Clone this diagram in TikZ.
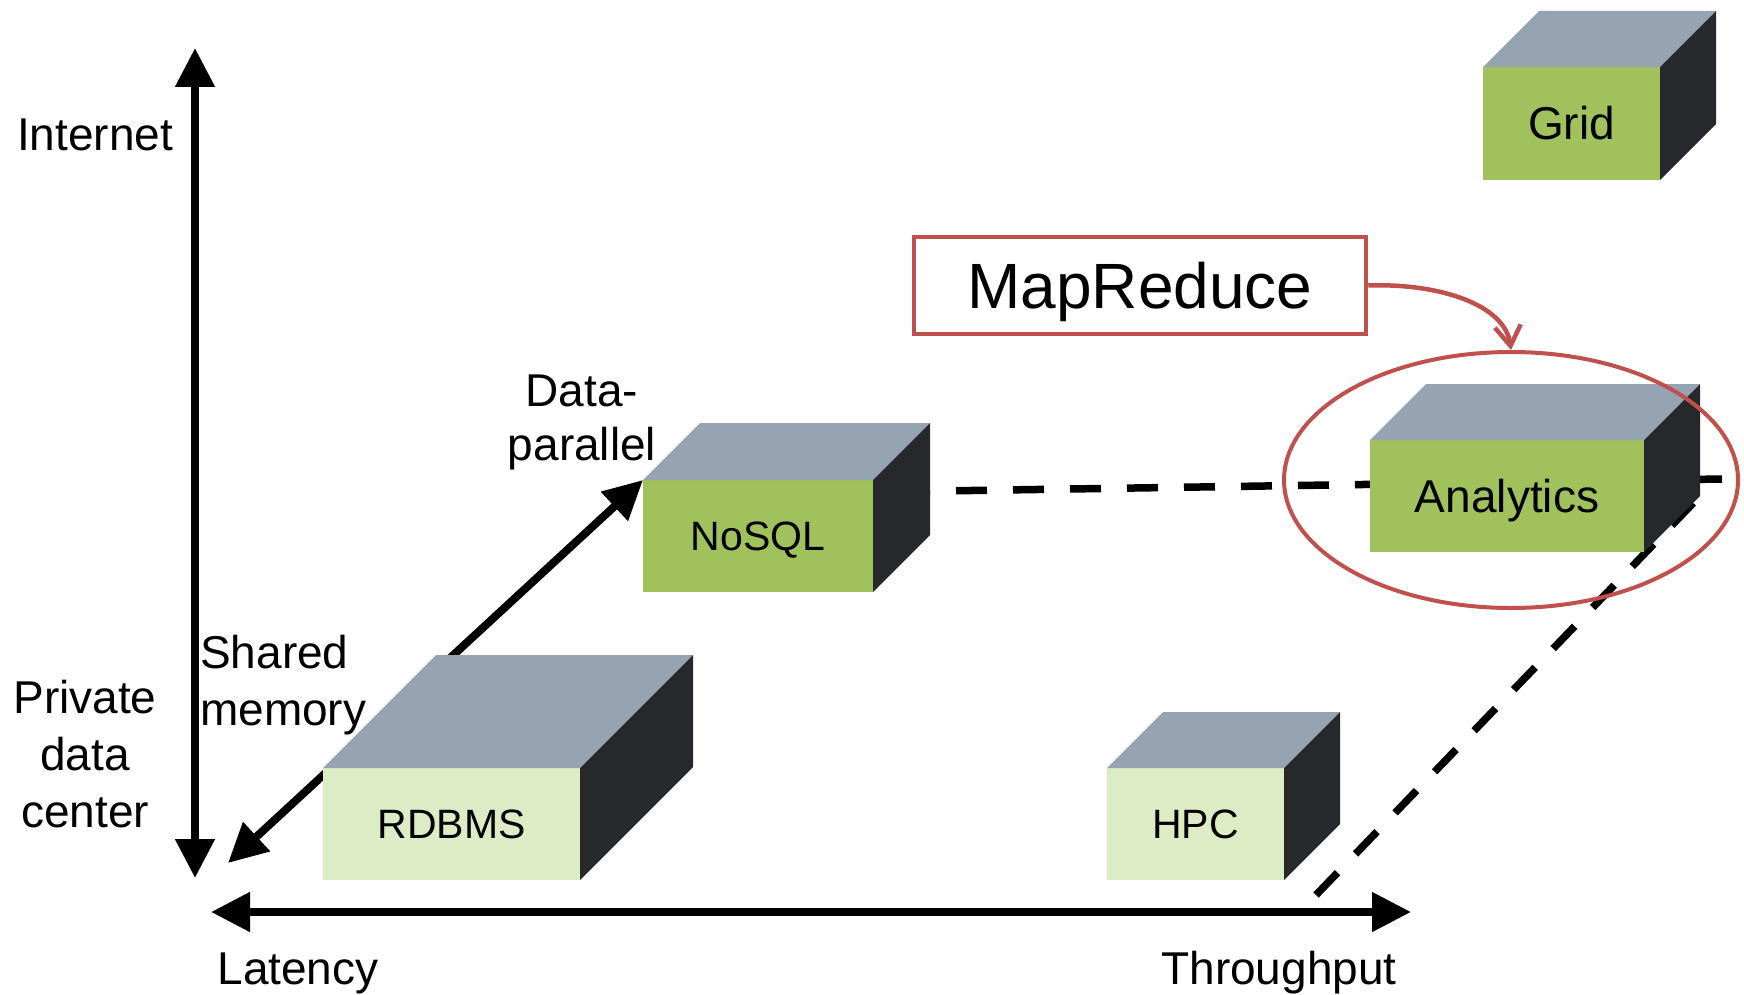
\documentclass[tikz,border=0pt]{standalone}
\usepackage{fontspec}
\setmainfont{Liberation Sans}
\usetikzlibrary{arrows.meta,shapes.geometric}

\definecolor{facegreen}{RGB}{161,193,93}
\definecolor{facelight}{RGB}{222,236,197}
\definecolor{topgray}{RGB}{149,163,179}
\definecolor{sidedark}{RGB}{38,40,43}
\definecolor{accentred}{RGB}{192,80,77}

% a box drawn as a cube: front face node, grey top, dark right side
% #1 name, #2 front style, #3 top-left corner of the front face,
% #4 width, #5 height, #6 depth, #7 label
\newcommand\blockcube[7]{%
  \node[cubefront,#2,minimum width=#4pt,minimum height=#5pt,anchor=north west] (#1) at #3 {#7};
  \fill[topgray] (#1.north west) -- (#1.north east)
    -- ([shift={(#6,-#6)}]#1.north east) -- ([shift={(#6,-#6)}]#1.north west) -- cycle;
  \fill[sidedark] (#1.north east) -- ([shift={(#6,-#6)}]#1.north east)
    -- ([shift={(#6,-#6)}]#1.south east) -- (#1.south east) -- cycle;
}

\tikzset{
  cubefront/.style={inner sep=0pt, outer sep=0pt, text=black},
  greenface/.style={fill=facegreen},
  lightface/.style={fill=facelight},
  smalllabel/.style={font=\fontsize{41}{49}\selectfont, text height=29.4pt, text depth=0pt},
  biglabel/.style={font=\fontsize{46}{55}\selectfont, text height=33pt, text depth=0pt},
  axis/.style={line width=8pt,
    {Triangle[length=39pt,width=38pt]}-{Triangle[length=39pt,width=38pt]}},
  guide/.style={line width=7.5pt, dash pattern=on 31pt off 26pt},
  lbl/.style={inner sep=0pt, font=\fontsize{46}{57}\selectfont},
  redline/.style={draw=accentred, line width=4.5pt},
}

\begin{document}
\begin{tikzpicture}[x=1pt,y=-1pt]
\useasboundingbox (0,0) rectangle (1744,995);

% axis end points
\coordinate (vtop) at (195,48);
\coordinate (vbot) at (195,878);
\coordinate (hleft) at (211,912);
\coordinate (hright) at (1411,912);
\coordinate (dlow) at (228,863);
\coordinate (dashstart) at (873,492);
\coordinate (dashend) at (1722,479);
\coordinate (slantstart) at (1316,895);

% guide lines and the shared-memory / data-parallel axis, behind the cubes
\draw[guide, dash phase=31pt] (dashstart) -- (dashend);
\draw[guide] (slantstart) -- (1700,496);
\draw[axis] (dlow) -- (643,480);

% cubes
\blockcube{grid}{greenface,biglabel}{(1483,67)}{177}{113}{56}{Grid}
\blockcube{analytics}{greenface,biglabel}{(1370,440)}{274}{112}{56}{Analytics}
\blockcube{nosql}{greenface,smalllabel}{(643,480)}{230}{112}{57}{NoSQL}
\blockcube{rdbms}{lightface,smalllabel}{(323,768)}{257}{112}{113}{RDBMS}
\blockcube{hpc}{lightface,smalllabel}{(1107,768)}{177}{112}{56}{HPC}

% main axes
\draw[axis] (vtop) -- (vbot);
\draw[axis] (hleft) -- (hright);

% MapReduce call-out
\node[ellipse, redline, line width=4pt, minimum width=454pt, minimum height=256pt,
      inner sep=0pt] (focus) at (1511,480) {};
\node[redline, fill=white, minimum width=452pt, minimum height=97pt, inner sep=0pt,
      font=\fontsize{64}{77}\selectfont, text height=46pt, text depth=0pt]
      (mapreduce) at (1140,285.5) {MapReduce};
\draw[accentred, line width=4.5pt, -{Straight Barb[length=20pt,width=26pt]}]
  (mapreduce.east) .. controls (1440,283) and (1505,305) .. (focus.north);

% axis labels
\node[lbl, anchor=base] (internet) at (95,151) {Internet};
\node[lbl, anchor=north, align=center] (private) at (85,679.5) {Private\\data\\center};
\node[lbl, anchor=north west, align=left] (shared) at (200,634.5) {Shared\\memory};
\node[lbl, anchor=north, align=center, font=\fontsize{46}{54}\selectfont]
  (dataparallel) at (582,375) {Data-\\parallel};
\node[lbl, anchor=base] (latency) at (298,984) {Latency};
\node[lbl, anchor=base] (throughput) at (1279,984) {Throughput};
\end{tikzpicture}
\end{document}
